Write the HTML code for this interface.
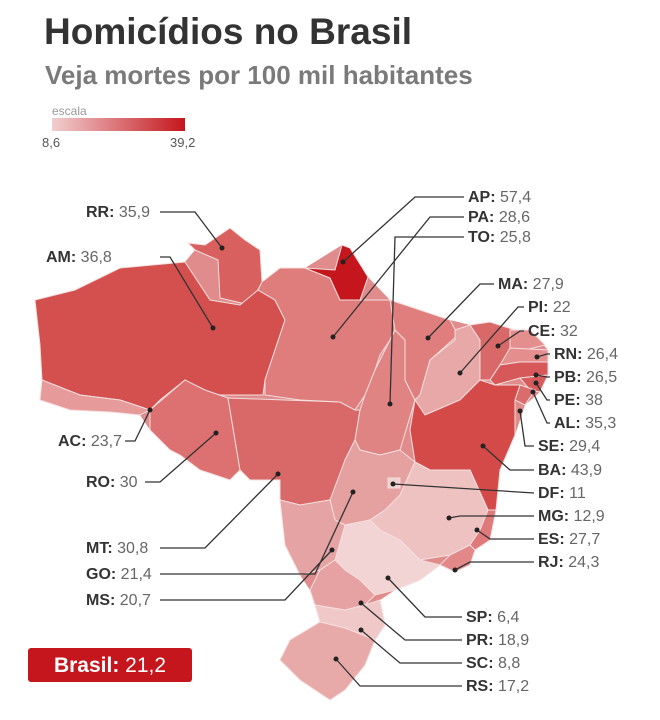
<!DOCTYPE html>
<html><head><meta charset="utf-8"><style>
html,body{margin:0;padding:0;background:#fff;}
svg{display:block;font-family:"Liberation Sans",sans-serif;}
.l{font-size:16px;fill:#666;}
.l tspan.b{font-weight:bold;fill:#333;}
.ln{fill:none;stroke:#333;stroke-width:1.3;}
.st{stroke:#f4dede;stroke-width:1;}
</style></head><body>
<svg width="660" height="720" viewBox="0 0 660 720">
<defs><linearGradient id="g" x1="0" x2="1"><stop offset="0" stop-color="#f1cfd0"/><stop offset="1" stop-color="#c4161c"/></linearGradient></defs>
<text x="44" y="44" font-size="37" font-weight="bold" fill="#333">Homicídios no Brasil</text>
<text x="45" y="84" font-size="26" font-weight="bold" fill="#7a7a7a">Veja mortes por 100 mil habitantes</text>
<text x="52" y="115" font-size="12" fill="#999">escala</text>
<rect x="52" y="118" width="133" height="13" fill="url(#g)"/>
<text x="42" y="147" font-size="13" fill="#555">8,6</text>
<text x="170" y="147" font-size="13" fill="#555">39,2</text>

<polygon fill="#e08c8c" points="35,300 75,290 120,268 185,262 195,250 188,243 205,245 230,228 245,240 260,250 262,282 280,268 305,268 342,245 350,248 368,277 390,300 420,310 450,320 470,325 490,322 515,330 530,330 548,350 548,375 540,392 525,405 515,435 500,470 496,510 490,540 475,550 470,565 455,572 440,565 420,580 395,590 380,600 385,625 375,640 365,665 345,690 330,700 300,680 280,660 290,640 320,622 315,605 310,590 300,575 285,545 280,500 280,480 250,480 240,470 230,480 200,470 180,455 150,430 140,415 110,412 70,410 40,400 42,380 40,345"/>
<g class="st">
<polygon fill="#d8605f" points="188,243 205,245 230,228 245,240 260,250 262,282 250,305 220,298 218,260 195,250"/>
<polygon fill="#d4504f" points="35,300 75,290 120,268 185,262 210,300 240,305 258,290 275,300 285,320 265,380 263,395 220,395 200,390 185,380 160,400 150,410 120,400 80,395 42,380 40,345"/>
<polygon fill="#e69a9a" points="42,380 80,395 120,400 150,410 140,415 110,412 70,410 40,400"/>
<polygon fill="#dd7070" points="150,410 185,380 205,390 228,398 240,470 230,480 200,470 180,455 170,450 150,430"/>
<polygon fill="#d96868" points="228,398 340,402 355,410 360,410 355,440 345,460 335,490 330,500 300,505 280,500 280,480 250,480 240,470"/>
<polygon fill="#df7c7c" points="262,282 280,268 305,268 330,278 340,300 360,300 390,300 400,320 390,340 380,355 375,370 365,395 355,410 340,402 300,400 265,395 265,380 285,320 275,300 258,290"/>
<polygon fill="#c4161c" points="305,268 335,270 342,245 350,248 368,277 360,300 340,300 330,278"/>
<polygon fill="#e08383" points="375,370 395,330 405,340 405,380 415,400 400,450 380,455 360,450 355,440 360,410 365,395"/>
<polygon fill="#e07e7e" points="390,300 420,310 450,320 458,335 430,360 420,395 415,400 405,380 405,340 395,330"/>
<polygon fill="#e9a8a8" points="455,330 470,325 480,340 480,380 460,400 425,415 415,400 420,395 430,360 455,340"/>
<polygon fill="#d96868" points="470,325 490,322 515,330 510,360 500,365 490,380 480,380 480,340"/>
<polygon fill="#e48e8e" points="510,330 530,330 545,345 525,350 510,348"/>
<polygon fill="#e48e8e" points="510,348 548,350 548,362 520,362 500,365"/>
<polygon fill="#d65858" points="490,380 500,365 520,362 548,362 548,375 520,378 495,385"/>
<polygon fill="#d75b5b" points="520,378 548,375 540,392 530,390"/>
<polygon fill="#da6c6c" points="520,385 535,390 525,405 515,400"/>
<polygon fill="#d44a48" points="415,400 425,415 460,400 480,380 495,385 520,385 515,400 515,435 500,470 496,510 488,510 470,470 430,470 415,462 410,430"/>
<polygon fill="#e5a0a0" points="360,450 380,455 400,450 415,462 400,495 385,510 370,520 345,525 335,520 330,500 345,460 355,440"/>
<polygon fill="#efc2c2" points="400,495 415,462 430,470 470,470 488,510 480,530 470,545 450,555 420,560 400,540 380,530 370,520 385,510"/>
<rect x="388" y="478" width="12" height="10" fill="#f0d0d0"/>
<polygon fill="#df7a7a" points="488,510 496,510 490,540 475,550 470,545 480,530"/>
<polygon fill="#e28888" points="450,555 470,545 475,550 470,565 455,572 440,565"/>
<polygon fill="#f3d4d4" points="370,520 380,530 400,540 420,560 440,565 420,580 395,590 375,595 360,580 345,570 335,560 345,525"/>
<polygon fill="#e6a3a3" points="280,500 300,505 330,500 335,520 345,525 335,560 320,570 300,575 285,545"/>
<polygon fill="#e6a2a2" points="320,570 335,560 345,570 360,580 375,595 365,605 345,610 315,605 310,590"/>
<polygon fill="#f0c8c8" points="315,605 345,610 365,605 380,600 385,625 375,640 345,628 320,622"/>
<polygon fill="#e8a9a9" points="320,622 345,628 375,640 365,665 345,690 330,700 300,680 280,660 290,640"/>
</g>

<g class="ln">
<polyline points="160,212 195,212 222,248"/>
<polyline points="160,257 170,257 213,328"/>
<polyline points="125,441 135,441 150,410"/>
<polyline points="145,482 160,482 216,433"/>
<polyline points="160,548 205,548 278,474"/>
<polyline points="160,574 315,574 353,492"/>
<polyline points="160,600 285,600 332,550"/>
<polyline points="464,197 415,197 343,262"/>
<polyline points="464,217 430,217 333,337"/>
<polyline points="464,237 395,237 390,404"/>
<polyline points="494,284 480,284 428,338"/>
<polyline points="524,307 518,307 460,373"/>
<polyline points="524,331 520,331 498,346"/>
<polyline points="550,354 547,354 537,357"/>
<polyline points="550,377 547,377 536,375"/>
<polyline points="550,400 547,400 536,383"/>
<polyline points="550,423 547,423 533,392"/>
<polyline points="534,446 525,446 520,411"/>
<polyline points="534,470 510,470 483,446"/>
<polyline points="534,493 393,484"/>
<polyline points="534,516 460,516 449,518"/>
<polyline points="534,539 490,539 477,530"/>
<polyline points="534,562 470,562 455,570"/>
<polyline points="462,617 425,617 388,578"/>
<polyline points="462,640 405,640 361,603"/>
<polyline points="462,663 400,663 361,630"/>
<polyline points="462,686 360,686 336,659"/>
</g>
<g fill="#222">
<circle cx="222" cy="248" r="2.5"/><circle cx="213" cy="328" r="2.5"/><circle cx="150" cy="410" r="2.5"/><circle cx="216" cy="433" r="2.5"/><circle cx="278" cy="474" r="2.5"/><circle cx="353" cy="492" r="2.5"/><circle cx="332" cy="550" r="2.5"/><circle cx="343" cy="262" r="2.5"/><circle cx="333" cy="337" r="2.5"/><circle cx="390" cy="404" r="2.5"/><circle cx="428" cy="338" r="2.5"/><circle cx="460" cy="373" r="2.5"/><circle cx="498" cy="346" r="2.5"/><circle cx="537" cy="357" r="2.5"/><circle cx="536" cy="375" r="2.5"/><circle cx="536" cy="383" r="2.5"/><circle cx="533" cy="392" r="2.5"/><circle cx="520" cy="411" r="2.5"/><circle cx="483" cy="446" r="2.5"/><circle cx="393" cy="484" r="2.5"/><circle cx="449" cy="518" r="2.5"/><circle cx="477" cy="530" r="2.5"/><circle cx="455" cy="570" r="2.5"/><circle cx="388" cy="578" r="2.5"/><circle cx="361" cy="603" r="2.5"/><circle cx="361" cy="630" r="2.5"/><circle cx="336" cy="659" r="2.5"/>
</g>

<g class="l">
<text x="86" y="217"><tspan class="b">RR:</tspan> 35,9</text>
<text x="46" y="262"><tspan class="b">AM:</tspan> 36,8</text>
<text x="58" y="446"><tspan class="b">AC:</tspan> 23,7</text>
<text x="86" y="487"><tspan class="b">RO:</tspan> 30</text>
<text x="86" y="553"><tspan class="b">MT:</tspan> 30,8</text>
<text x="86" y="579"><tspan class="b">GO:</tspan> 21,4</text>
<text x="86" y="605"><tspan class="b">MS:</tspan> 20,7</text>
<text x="468" y="202"><tspan class="b">AP:</tspan> 57,4</text>
<text x="468" y="222"><tspan class="b">PA:</tspan> 28,6</text>
<text x="468" y="242"><tspan class="b">TO:</tspan> 25,8</text>
<text x="498" y="289"><tspan class="b">MA:</tspan> 27,9</text>
<text x="528" y="312"><tspan class="b">PI:</tspan> 22</text>
<text x="528" y="336"><tspan class="b">CE:</tspan> 32</text>
<text x="554" y="359"><tspan class="b">RN:</tspan> 26,4</text>
<text x="554" y="382"><tspan class="b">PB:</tspan> 26,5</text>
<text x="554" y="405"><tspan class="b">PE:</tspan> 38</text>
<text x="554" y="428"><tspan class="b">AL:</tspan> 35,3</text>
<text x="538" y="451"><tspan class="b">SE:</tspan> 29,4</text>
<text x="538" y="475"><tspan class="b">BA:</tspan> 43,9</text>
<text x="538" y="498"><tspan class="b">DF:</tspan> 11</text>
<text x="538" y="521"><tspan class="b">MG:</tspan> 12,9</text>
<text x="538" y="544"><tspan class="b">ES:</tspan> 27,7</text>
<text x="538" y="567"><tspan class="b">RJ:</tspan> 24,3</text>
<text x="466" y="622"><tspan class="b">SP:</tspan> 6,4</text>
<text x="466" y="645"><tspan class="b">PR:</tspan> 18,9</text>
<text x="466" y="668"><tspan class="b">SC:</tspan> 8,8</text>
<text x="466" y="691"><tspan class="b">RS:</tspan> 17,2</text>
</g>

<rect x="28" y="648" width="164" height="34" rx="3" fill="#c4161c"/>
<text x="110" y="672" font-size="21" fill="#fff" text-anchor="middle"><tspan font-weight="bold">Brasil:</tspan> 21,2</text>
</svg>
</body></html>
